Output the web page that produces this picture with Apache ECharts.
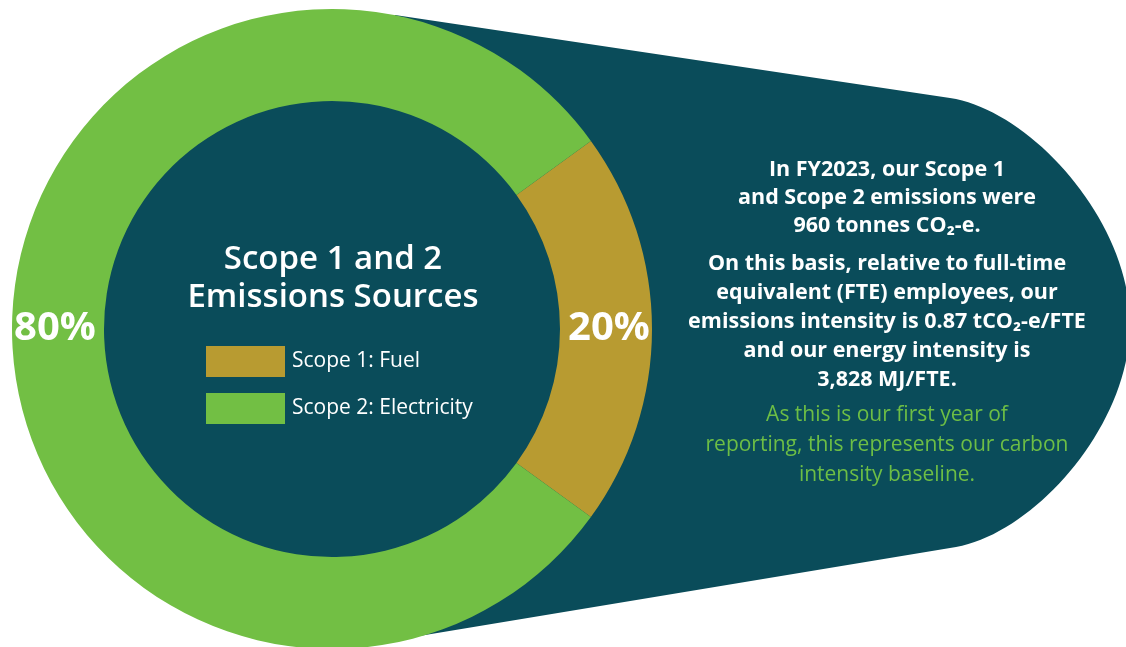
<!doctype html>
<html>
<head>
    <meta charset="UTF-8">
    <title>Scope 1 and 2 Emissions Sources</title>
    <script src="https://cdn.jsdelivr.net/npm/echarts@6/dist/echarts.min.js"></script>
    <style>
        html, body { margin: 0; padding: 0; background: #ffffff; }
        #main { width: 1126px; height: 647px; }
    </style>
</head>
<body>
<div id="main"></div>
<script>
    // data
    var categories = ['Scope 1: Fuel', 'Scope 2: Electricity'];
    var shares = [20, 80];   // %
    var titleLines = ['Scope 1 and 2', 'Emissions Sources'];
    var noteLines = [
        'In FY2023, our Scope 1',
        'and Scope 2 emissions were',
        '960 tonnes CO₂-e.'
    ];
    var basisLines = [
        'On this basis, relative to full-time',
        'equivalent (FTE) employees, our',
        'emissions intensity is 0.87 tCO₂-e/FTE',
        'and our energy intensity is',
        '3,828 MJ/FTE.'
    ];
    var baselineLines = [
        'As this is our first year of',
        'reporting, this represents our carbon',
        'intensity baseline.'
    ];

    var teal = '#0a4c5a';
    var colors = ['#b89b31', '#72bf44'];
    var cx = 332, cy = 329;

    // outline of the tapered background (cubic bezier sampled into a polygon)
    function bez(p0, p1, p2, p3, n, out) {
        for (var i = 0; i <= n; i++) {
            var t = i / n, u = 1 - t;
            out.push([
                u * u * u * p0[0] + 3 * u * u * t * p1[0] + 3 * u * t * t * p2[0] + t * t * t * p3[0],
                u * u * u * p0[1] + 3 * u * u * t * p1[1] + 3 * u * t * t * p2[1] + t * t * t * p3[1]
            ]);
        }
    }
    var bgPoints = [[395, 15]];
    bez([950, 98], [1030, 110], [1130, 220], [1130, 324], 40, bgPoints);
    bez([1130, 324], [1130, 428], [1030, 538], [950, 548], 40, bgPoints);
    bgPoints.push([395, 640], [300, 330]);

    var dom = document.getElementById("main");
    var myChart = echarts.init(dom);

    var option = {
        animation: false,
        color: colors,
        legend: {
            orient: 'vertical',
            left: 201,
            top: 341,
            icon: 'rect',
            itemWidth: 79,
            itemHeight: 31,
            itemGap: 16,
            textStyle: {
                color: '#ffffff',
                fontFamily: 'Open Sans',
                fontSize: 21,
                padding: [0, 0, 0, 2]
            },
            selectedMode: false,
            data: categories
        },
        graphic: [
            {   // the tapered background shape
                type: 'polygon',
                z: -10,
                shape: { points: bgPoints },
                style: { fill: teal }
            },
            {   // donut hole
                type: 'circle',
                z: -5,
                shape: { cx: cx, cy: cy, r: 229 },
                style: { fill: teal }
            },
            {
                type: 'text',
                z: 10,
                style: {
                    x: cx + 1, y: 279,
                    text: titleLines.join('\n'),
                    fill: '#ffffff',
                    font: '600 33px "Open Sans"',
                    lineHeight: 38,
                    align: 'center',
                    verticalAlign: 'middle'
                }
            },
            {
                type: 'text',
                z: 10,
                style: {
                    x: 887, y: 198,
                    text: noteLines.join('\n'),
                    fill: '#ffffff',
                    font: 'bold 21.5px "Open Sans"',
                    lineHeight: 28,
                    align: 'center',
                    verticalAlign: 'middle'
                }
            },
            {
                type: 'text',
                z: 10,
                style: {
                    x: 887, y: 322,
                    text: basisLines.join('\n'),
                    fill: '#ffffff',
                    font: 'bold 21.5px "Open Sans"',
                    lineHeight: 29,
                    align: 'center',
                    verticalAlign: 'middle'
                }
            },
            {
                type: 'text',
                z: 10,
                style: {
                    x: 887, y: 445,
                    text: baselineLines.join('\n'),
                    fill: '#6dbe45',
                    font: '21px "Open Sans"',
                    lineHeight: 30,
                    align: 'center',
                    verticalAlign: 'middle'
                }
            }
        ],
        series: [
            {
                name: 'Emissions Sources',
                type: 'pie',
                center: [cx, cy],
                radius: [228, 320],
                startAngle: 36,
                clockwise: true,
                silent: true,
                label: {
                    show: true,
                    position: 'inside',
                    formatter: '{c}%',
                    color: '#ffffff',
                    fontFamily: 'Open Sans',
                    fontWeight: 'bold',
                    fontSize: 40
                },
                labelLine: { show: false },
                itemStyle: { borderWidth: 0 },
                emphasis: { disabled: true },
                data: categories.map(function (name, i) {
                    return { name: name, value: shares[i] };
                })
            }
        ]
    };
    myChart.setOption(option, true);
</script>
</body>
</html>
